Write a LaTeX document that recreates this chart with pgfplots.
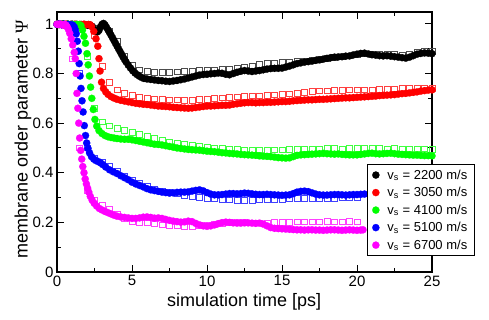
\documentclass[border=0pt]{standalone}
\usepackage{fontspec}
\setmainfont{Liberation Sans}
\newfontfamily\serifgreek{Liberation Serif}
\usepackage{pgfplots}
\pgfplotsset{compat=1.18}
\definecolor{cgreen}{RGB}{0,255,0}
\definecolor{cmag}{RGB}{255,0,255}
\definecolor{cblue}{RGB}{0,0,255}
\definecolor{cred}{RGB}{255,0,0}
\begin{document}
\begin{tikzpicture}
\begin{axis}[
  scale only axis, width=375pt, height=260pt,
  xmin=0, xmax=25, ymin=0, ymax=1.048,
  xtick={0,5,10,15,20,25}, ytick={0,0.2,0.4,0.6,0.8,1},
  minor x tick num=1, minor y tick num=1,
  xtick pos=both, ytick pos=both, tick align=inside,
  major tick length=7pt, minor tick length=4pt,
  every tick/.style={black, line width=1pt},
  axis line style={line width=1.3pt},
  /pgf/number format/assume math mode=true,
  ticklabel style={font=\fontsize{15}{18}\selectfont},
  xlabel={simulation time [ps]},
  ylabel={membrane order parameter {\serifgreek Ψ}},
  label style={font=\fontsize{18}{21}\selectfont},
  xlabel style={at={(axis description cs:0.499,-0.131)}, anchor=base},
  ylabel style={at={(axis description cs:-0.078,0.51)}, anchor=base},
  legend cell align=left,
  legend style={at={(axis description cs:0.826,0.415)}, anchor=north west,
    draw=black, line width=1pt, font=\fontsize{13}{15}\selectfont,
    inner xsep=5pt, inner ysep=3pt, row sep=2.6pt,
    /tikz/every odd column/.append style={column sep=6pt}},
]
% ---------- squares (second data set) ----------
\addplot[only marks, mark=square, mark size=2.8pt, color=black!70, mark options={line width=0.6pt}, forget plot] coordinates {
(0,1)(0.5,1)(1,1)(1.5,1)(2,0.999)(2.5,0.985)(3,0.995)(3.5,0.972)(4,0.93)(4.5,0.87)(5,0.832)(5.5,0.815)(6,0.809)(6.5,0.806)(7,0.804)(7.5,0.805)(8,0.807)(8.5,0.809)(9,0.81)(9.5,0.812)(10,0.814)(10.5,0.815)(11,0.816)(11.5,0.818)(12,0.822)(12.5,0.826)(13,0.83)(13.5,0.836)(14,0.84)(14.5,0.843)(15,0.846)(15.5,0.848)(16,0.85)(16.5,0.852)(17,0.855)(17.5,0.858)(18,0.862)(18.5,0.866)(19,0.868)(19.5,0.872)(20,0.876)(20.5,0.879)(21,0.878)(21.5,0.877)(22,0.878)(22.5,0.877)(23,0.876)(23.5,0.878)(24,0.885)(24.5,0.889)(25,0.89)};
\addplot[only marks, mark=square, mark size=2.8pt, color=cred!75, mark options={line width=0.6pt}, forget plot] coordinates {
(0,1)(0.5,1)(1,1)(1.5,1)(2,0.999)(2.5,0.955)(3,0.83)(3.5,0.765)(4,0.735)(4.5,0.72)(5,0.712)(5.5,0.705)(6,0.7)(6.5,0.698)(7,0.696)(7.5,0.694)(8,0.694)(8.5,0.692)(9,0.693)(9.5,0.696)(10,0.697)(10.5,0.699)(11,0.702)(11.5,0.704)(12,0.706)(12.5,0.708)(13,0.71)(13.5,0.711)(14,0.712)(14.5,0.714)(15,0.716)(15.5,0.718)(16,0.72)(16.5,0.724)(17,0.728)(17.5,0.73)(18,0.731)(18.5,0.733)(19,0.733)(19.5,0.734)(20,0.734)(20.5,0.735)(21,0.734)(21.5,0.736)(22,0.737)(22.5,0.739)(23,0.74)(23.5,0.741)(24,0.742)(24.5,0.743)(25,0.74)};
\addplot[only marks, mark=square, mark size=2.8pt, color=cgreen!75, mark options={line width=0.6pt}, forget plot] coordinates {
(0,1)(0.5,1)(1,1)(1.5,0.998)(2,0.87)(2.5,0.66)(3,0.605)(3.5,0.59)(4,0.579)(4.5,0.57)(5,0.562)(5.5,0.554)(6,0.546)(6.5,0.538)(7,0.531)(7.5,0.525)(8,0.52)(8.5,0.515)(9,0.51)(9.5,0.506)(10,0.503)(10.5,0.5)(11,0.498)(11.5,0.496)(12,0.494)(12.5,0.493)(13,0.492)(13.5,0.492)(14,0.491)(14.5,0.492)(15,0.493)(15.5,0.494)(16,0.495)(16.5,0.496)(17,0.497)(17.5,0.497)(18,0.498)(18.5,0.498)(19,0.497)(19.5,0.498)(20,0.498)(20.5,0.499)(21,0.498)(21.5,0.498)(22,0.497)(22.5,0.498)(23,0.497)(23.5,0.497)(24,0.496)(24.5,0.496)(25,0.495)};
\addplot[only marks, mark=square, mark size=2.8pt, color=cblue!75, mark options={line width=0.6pt}, forget plot] coordinates {
(0,1)(0.5,1)(1,0.998)(1.5,0.8)(2,0.5)(2.5,0.46)(3,0.443)(3.5,0.425)(4,0.405)(4.5,0.388)(5,0.372)(5.5,0.358)(6,0.346)(6.5,0.336)(7,0.328)(7.5,0.321)(8,0.315)(8.5,0.31)(9,0.306)(9.5,0.302)(10,0.298)(10.5,0.295)(11,0.293)(11.5,0.291)(12,0.29)(12.5,0.29)(13,0.29)(13.5,0.291)(14,0.292)(14.5,0.293)(15,0.294)(15.5,0.295)(16,0.296)(16.5,0.297)(17,0.297)(17.5,0.298)(18,0.298)(18.5,0.298)(19,0.299)(19.5,0.299)(20,0.3)};
\addplot[only marks, mark=square, mark size=2.8pt, color=cmag!75, mark options={line width=0.6pt}, forget plot] coordinates {
(0,1)(0.5,0.995)(1,0.86)(1.5,0.5)(2,0.33)(2.5,0.29)(3,0.27)(3.5,0.255)(4,0.235)(4.5,0.215)(5,0.205)(5.5,0.2)(6,0.198)(6.5,0.195)(7,0.19)(7.5,0.188)(8,0.186)(8.5,0.185)(9,0.185)(9.5,0.188)(10,0.19)(10.5,0.192)(11,0.196)(11.5,0.2)(12,0.2)(12.5,0.2)(13,0.199)(13.5,0.198)(14,0.198)(14.5,0.2)(15,0.2)(15.5,0.201)(16,0.202)(16.5,0.203)(17,0.203)(17.5,0.203)(18,0.204)(18.5,0.203)(19,0.203)(19.5,0.204)(20,0.203)};
% ---------- circles (first data set) ----------
\addplot[only marks, mark=*, mark size=3.6pt, color=black, mark options={line width=0.2pt}] coordinates {
(0,0.999)(0.1,1.0)(0.25,0.998)(0.4,1.0)(0.55,0.997)(0.7,0.999)(0.85,0.996)(1.0,0.999)(1.15,0.997)(1.3,0.998)(1.45,0.995)(1.6,0.998)(1.75,0.996)(1.9,0.997)(2.05,0.994)(2.2,0.995)(2.35,0.99)(2.5,0.978)(2.6,0.97)(2.7,0.968)(2.8,0.974)(2.9,0.988)(3.0,0.998)(3.1,1.002)(3.2,0.996)(3.3,0.986)(3.4,0.976)(3.5,0.966)(3.6,0.955)(3.7,0.944)(3.8,0.933)(3.9,0.922)(4.0,0.911)(4.1,0.9)(4.2,0.889)(4.3,0.878)(4.4,0.867)(4.5,0.857)(4.6,0.847)(4.75,0.834)(4.9,0.822)(5.05,0.811)(5.2,0.802)(5.35,0.795)(5.5,0.789)(5.65,0.784)(5.8,0.78)(6.0,0.778)(6.25,0.776)(6.5,0.774)(6.75,0.772)(7.0,0.771)(7.25,0.769)(7.5,0.768)(7.75,0.77)(8.0,0.772)(8.25,0.775)(8.5,0.778)(8.75,0.782)(9.0,0.786)(9.25,0.79)(9.5,0.794)(9.75,0.796)(10.0,0.797)(10.25,0.799)(10.5,0.8)(10.75,0.802)(11.0,0.801)(11.25,0.797)(11.5,0.795)(11.75,0.8)(12.0,0.805)(12.25,0.809)(12.5,0.812)(12.75,0.81)(13.0,0.808)(13.25,0.81)(13.5,0.812)(13.75,0.815)(14.0,0.818)(14.25,0.82)(14.5,0.821)(14.75,0.821)(15.0,0.822)(15.25,0.826)(15.5,0.83)(15.75,0.835)(16.0,0.84)(16.25,0.843)(16.5,0.846)(16.75,0.848)(17.0,0.85)(17.25,0.853)(17.5,0.855)(17.75,0.858)(18.0,0.861)(18.25,0.864)(18.5,0.866)(18.75,0.867)(19.0,0.868)(19.25,0.87)(19.5,0.871)(19.75,0.875)(20.0,0.878)(20.25,0.881)(20.5,0.882)(20.75,0.879)(21.0,0.876)(21.25,0.874)(21.5,0.872)(21.75,0.871)(22.0,0.872)(22.25,0.87)(22.5,0.868)(22.75,0.866)(23.0,0.864)(23.25,0.862)(23.5,0.866)(23.75,0.872)(24.0,0.878)(24.25,0.881)(24.5,0.883)(24.75,0.882)(25.0,0.88)};
\addlegendentry{v\textsubscript{s} = 2200 m/s}
\addplot[only marks, mark=*, mark size=3.6pt, color=cred, mark options={line width=0.2pt}] coordinates {
(0,0.999)(0.15,0.998)(0.3,1.0)(0.45,0.997)(0.6,0.999)(0.75,0.996)(0.9,0.998)(1.05,0.997)(1.2,0.999)(1.35,0.996)(1.5,0.998)(1.65,0.997)(1.8,0.999)(1.95,0.996)(2.1,0.998)(2.2,0.997)(2.3,0.99)(2.45,0.97)(2.6,0.94)(2.72,0.91)(2.8,0.86)(2.87,0.81)(2.97,0.765)(3.1,0.74)(3.25,0.726)(3.4,0.716)(3.6,0.707)(3.8,0.701)(4.0,0.696)(4.25,0.692)(4.5,0.689)(4.75,0.686)(5.0,0.683)(5.25,0.68)(5.5,0.678)(5.75,0.676)(6.0,0.675)(6.25,0.673)(6.5,0.671)(6.75,0.669)(7.0,0.668)(7.25,0.667)(7.5,0.666)(7.75,0.664)(8.0,0.663)(8.25,0.662)(8.5,0.661)(8.75,0.66)(9.0,0.661)(9.25,0.663)(9.5,0.665)(9.75,0.667)(10.0,0.669)(10.25,0.669)(10.5,0.67)(10.75,0.671)(11.0,0.672)(11.25,0.672)(11.5,0.673)(11.75,0.676)(12.0,0.678)(12.25,0.68)(12.5,0.682)(12.75,0.683)(13.0,0.683)(13.25,0.682)(13.5,0.683)(13.75,0.683)(14.0,0.684)(14.25,0.684)(14.5,0.685)(14.75,0.686)(15.0,0.687)(15.25,0.687)(15.5,0.688)(15.75,0.69)(16.0,0.691)(16.25,0.692)(16.5,0.693)(16.75,0.694)(17.0,0.694)(17.25,0.695)(17.5,0.696)(17.75,0.696)(18.0,0.697)(18.25,0.698)(18.5,0.699)(18.75,0.7)(19.0,0.701)(19.25,0.702)(19.5,0.702)(19.75,0.703)(20.0,0.704)(20.25,0.705)(20.5,0.706)(20.75,0.707)(21.0,0.708)(21.25,0.709)(21.5,0.711)(21.75,0.712)(22.0,0.713)(22.25,0.714)(22.5,0.715)(22.75,0.717)(23.0,0.719)(23.25,0.72)(23.5,0.722)(23.75,0.724)(24.0,0.726)(24.25,0.729)(24.5,0.731)(24.75,0.733)(25.0,0.734)};
\addlegendentry{v\textsubscript{s} = 3050 m/s}
\addplot[only marks, mark=*, mark size=3.6pt, color=cgreen, mark options={line width=0.2pt}] coordinates {
(0,0.999)(0.15,0.997)(0.3,1.0)(0.45,0.998)(0.6,0.996)(0.75,0.999)(0.9,0.997)(1.05,0.998)(1.2,0.996)(1.35,0.998)(1.5,0.997)(1.6,0.993)(1.7,0.975)(1.8,0.95)(1.9,0.922)(2.0,0.88)(2.08,0.835)(2.16,0.79)(2.24,0.745)(2.32,0.7)(2.42,0.655)(2.53,0.615)(2.65,0.588)(2.8,0.57)(3.0,0.558)(3.2,0.55)(3.4,0.545)(3.6,0.542)(3.8,0.54)(4.0,0.538)(4.25,0.536)(4.5,0.535)(4.75,0.535)(5.0,0.533)(5.25,0.53)(5.5,0.527)(5.75,0.524)(6.0,0.521)(6.25,0.518)(6.5,0.515)(6.75,0.514)(7.0,0.512)(7.25,0.509)(7.5,0.506)(7.75,0.503)(8.0,0.5)(8.25,0.498)(8.5,0.496)(8.75,0.494)(9.0,0.493)(9.25,0.492)(9.5,0.491)(9.75,0.489)(10.0,0.487)(10.25,0.486)(10.5,0.485)(10.75,0.483)(11.0,0.481)(11.25,0.48)(11.5,0.478)(11.75,0.477)(12.0,0.476)(12.25,0.474)(12.5,0.473)(12.75,0.472)(13.0,0.471)(13.25,0.47)(13.5,0.468)(13.75,0.467)(14.0,0.466)(14.25,0.465)(14.5,0.463)(14.75,0.461)(15.0,0.46)(15.25,0.459)(15.5,0.46)(15.75,0.465)(16.0,0.47)(16.25,0.472)(16.5,0.473)(16.75,0.474)(17.0,0.475)(17.25,0.476)(17.5,0.477)(17.75,0.478)(18.0,0.477)(18.25,0.476)(18.5,0.475)(18.75,0.476)(19.0,0.474)(19.25,0.473)(19.5,0.472)(19.75,0.472)(20.0,0.472)(20.25,0.474)(20.5,0.476)(20.75,0.478)(21.0,0.479)(21.25,0.477)(21.5,0.476)(21.75,0.477)(22.0,0.478)(22.25,0.479)(22.5,0.477)(22.75,0.475)(23.0,0.474)(23.25,0.473)(23.5,0.472)(23.75,0.471)(24.0,0.471)(24.25,0.47)(24.5,0.469)(24.75,0.469)(25.0,0.468)};
\addlegendentry{v\textsubscript{s} = 4100 m/s}
\addplot[only marks, mark=*, mark size=3.6pt, color=cblue, mark options={line width=0.2pt}] coordinates {
(0,0.998)(0.15,1.0)(0.3,0.997)(0.45,0.999)(0.6,0.996)(0.75,0.998)(0.9,0.997)(1.05,0.995)(1.15,0.988)(1.22,0.975)(1.28,0.96)(1.35,0.93)(1.42,0.89)(1.48,0.84)(1.54,0.79)(1.6,0.74)(1.67,0.69)(1.74,0.645)(1.82,0.59)(1.9,0.55)(1.98,0.52)(2.07,0.498)(2.17,0.48)(2.3,0.465)(2.45,0.455)(2.6,0.449)(2.75,0.445)(2.9,0.44)(3.05,0.433)(3.25,0.423)(3.5,0.412)(3.75,0.404)(4.0,0.397)(4.25,0.388)(4.5,0.38)(4.75,0.372)(5.0,0.362)(5.25,0.355)(5.5,0.349)(5.75,0.343)(6.0,0.336)(6.25,0.331)(6.5,0.328)(6.75,0.325)(7.0,0.322)(7.25,0.32)(7.5,0.318)(7.75,0.319)(8.0,0.321)(8.25,0.322)(8.5,0.322)(8.75,0.323)(9.0,0.326)(9.25,0.329)(9.5,0.331)(9.75,0.327)(10.0,0.32)(10.25,0.314)(10.5,0.311)(10.75,0.311)(11.0,0.312)(11.25,0.314)(11.5,0.316)(11.75,0.316)(12.0,0.315)(12.25,0.316)(12.5,0.318)(12.75,0.317)(13.0,0.315)(13.25,0.313)(13.5,0.312)(13.75,0.312)(14.0,0.313)(14.25,0.312)(14.5,0.311)(14.75,0.31)(15.0,0.309)(15.25,0.31)(15.5,0.311)(15.75,0.316)(16.0,0.322)(16.25,0.325)(16.5,0.326)(16.75,0.324)(17.0,0.319)(17.25,0.314)(17.5,0.311)(17.75,0.31)(18.0,0.31)(18.25,0.311)(18.5,0.312)(18.75,0.312)(19.0,0.311)(19.25,0.31)(19.5,0.311)(19.75,0.312)(20.0,0.312)(20.25,0.313)(20.5,0.314)};
\addlegendentry{v\textsubscript{s} = 5100 m/s}
\addplot[only marks, mark=*, mark size=3.6pt, color=cmag, mark options={line width=0.2pt}] coordinates {
(0,0.999)(0.1,0.997)(0.2,1.0)(0.3,0.998)(0.4,0.996)(0.5,0.998)(0.6,0.995)(0.68,0.988)(0.76,0.978)(0.85,0.962)(0.95,0.94)(1.05,0.915)(1.15,0.885)(1.22,0.86)(1.28,0.8)(1.33,0.72)(1.39,0.66)(1.45,0.6)(1.51,0.54)(1.58,0.49)(1.65,0.455)(1.72,0.425)(1.8,0.4)(1.88,0.375)(1.96,0.355)(2.04,0.338)(2.12,0.322)(2.22,0.305)(2.34,0.29)(2.48,0.277)(2.64,0.266)(2.82,0.256)(3.0,0.25)(3.2,0.244)(3.4,0.239)(3.6,0.234)(3.8,0.229)(4.0,0.225)(4.25,0.222)(4.5,0.22)(4.75,0.218)(5.0,0.216)(5.25,0.216)(5.5,0.218)(5.75,0.221)(6.0,0.222)(6.25,0.22)(6.5,0.217)(6.75,0.218)(7.0,0.216)(7.25,0.212)(7.5,0.208)(7.75,0.205)(8.0,0.203)(8.25,0.201)(8.5,0.202)(8.75,0.205)(9.0,0.203)(9.25,0.196)(9.5,0.19)(9.75,0.186)(10.0,0.184)(10.25,0.186)(10.5,0.19)(10.75,0.195)(11.0,0.199)(11.25,0.201)(11.5,0.2)(11.75,0.198)(12.0,0.197)(12.25,0.197)(12.5,0.198)(12.75,0.198)(13.0,0.197)(13.25,0.196)(13.5,0.197)(13.75,0.193)(14.0,0.186)(14.25,0.179)(14.5,0.176)(14.75,0.175)(15.0,0.174)(15.25,0.173)(15.5,0.172)(15.75,0.171)(16.0,0.17)(16.25,0.17)(16.5,0.169)(16.75,0.17)(17.0,0.17)(17.25,0.169)(17.5,0.169)(17.75,0.168)(18.0,0.169)(18.25,0.17)(18.5,0.17)(18.75,0.169)(19.0,0.168)(19.25,0.169)(19.5,0.17)(19.75,0.169)(20.0,0.168)(20.25,0.169)(20.4,0.17)};
\addlegendentry{v\textsubscript{s} = 6700 m/s}
\coordinate (ll) at (rel axis cs:0,0);
\coordinate (ur) at (rel axis cs:1,1);
\end{axis}
\pgfresetboundingbox
\path ([xshift=-57pt,yshift=-48pt]ll) rectangle ([xshift=57pt,yshift=12pt]ur);
\end{tikzpicture}
\end{document}
